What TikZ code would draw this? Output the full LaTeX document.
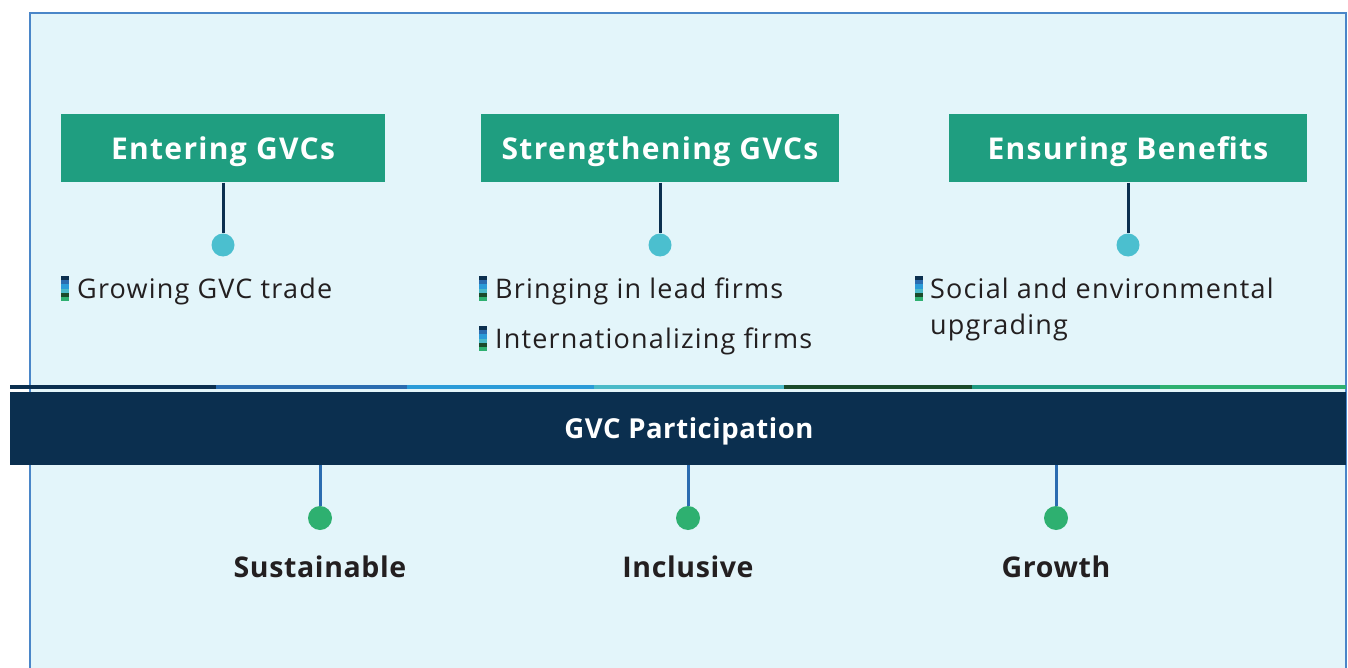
\documentclass[tikz,border=0pt]{standalone}
\usepackage{fontspec}
\setmainfont{Open Sans}
\newfontfamily\itemfont[LetterSpace=4.4]{Open Sans}
\newfontfamily\titlefont[LetterSpace=4.4]{Open Sans}
\newfontfamily\bandfont[LetterSpace=2]{Open Sans}
\newfontfamily\botfont[LetterSpace=2.2]{Open Sans}
\begin{document}
\begin{tikzpicture}[x=1pt,y=-1pt,
  titlebox/.style={fill=boxgreen, text=white, font=\titlefont\fontsize{30}{34}\selectfont\bfseries, minimum height=68pt, inner sep=0pt, text height=21.5pt, text depth=0pt},
  topdot/.style={circle, fill=dotblue, minimum size=23pt, inner sep=0pt},
  botdot/.style={circle, fill=dotgreen, minimum size=24pt, inner sep=0pt},
  itemtext/.style={anchor=base west, inner sep=0pt, text=textdark, font=\itemfont\fontsize{27}{36}\selectfont},
  botlabel/.style={anchor=base, inner sep=0pt, text=textdark, font=\botfont\fontsize{28.5}{34}\selectfont\bfseries},
  bandtext/.style={inner sep=0pt, text=white, font=\bandfont\fontsize{27.5}{30}\selectfont\bfseries, text height=20pt, text depth=0pt},
  topline/.style={draw=navy, line width=3pt},
  botline/.style={draw=segB, line width=3pt},
  pics/bulletmark/.style={code={
    \fill[navy]  (0,0) rectangle (8,4.2);
    \fill[segB]  (0,4.2) rectangle (8,8.4);
    \fill[segC]  (0,8.4) rectangle (8,12.6);
    \fill[segD]  (0,12.6) rectangle (8,16.8);
    \fill[segE]  (0,16.8) rectangle (8,21);
    \fill[segG]  (0,21) rectangle (8,25);
  }}]
\definecolor{bg}{HTML}{E3F5FA}
\definecolor{frame}{HTML}{4A86C8}
\definecolor{boxgreen}{HTML}{1F9E80}
\definecolor{navy}{HTML}{0B2F4F}
\definecolor{segB}{HTML}{2B6CB0}
\definecolor{segC}{HTML}{2B9BD8}
\definecolor{segD}{HTML}{4BBAC8}
\definecolor{segE}{HTML}{1A4A2A}
\definecolor{segF}{HTML}{1E9A80}
\definecolor{segG}{HTML}{2EB070}
\definecolor{dotblue}{HTML}{4BBFCF}
\definecolor{dotgreen}{HTML}{2EB070}
\definecolor{textdark}{HTML}{231F20}
\useasboundingbox (0,0) rectangle (1348,668);
\fill[white] (0,0) rectangle (1348,668);
% outer frame
\draw[frame, fill=bg, line width=1.5pt] (30,13) -- (1346,13) -- (1346,680) -- (30,680) -- cycle;
% colour strip
\fill[navy] (10,384.5) rectangle (216,389);
\fill[segB] (216,384.5) rectangle (407,389);
\fill[segC] (407,384.5) rectangle (594,389);
\fill[segD] (594,384.5) rectangle (784,389);
\fill[segE] (784,384.5) rectangle (972,389);
\fill[segF] (972,384.5) rectangle (1160,389);
\fill[segG] (1160,384.5) rectangle (1346,389);
% top boxes
\node[titlebox, minimum width=324pt] (b1) at (223,148.5) {Entering GVCs};
\node[titlebox, minimum width=358pt] (b2) at (660,148.5) {Strengthening GVCs};
\node[titlebox, minimum width=358pt] (b3) at (1128,148.5) {Ensuring Benefits};
\node[topdot] (d1) at (223,245) {};
\node[topdot] (d2) at (660,245) {};
\node[topdot] (d3) at (1128,245) {};
\draw[topline] (b1.south) -- (d1.north);
\draw[topline] (b2.south) -- (d2.north);
\draw[topline] (b3.south) -- (d3.north);
% items
\pic at (61,276) {bulletmark};
\node[itemtext] (t1) at (77,298) {Growing GVC trade};
\pic at (479,276) {bulletmark};
\node[itemtext] (t2) at (495,298) {Bringing in lead firms};
\pic at (479,326) {bulletmark};
\node[itemtext] (t3) at (495,348) {Internationalizing firms};
\pic at (915,276) {bulletmark};
\node[itemtext] (t4) at (930,298) {\vtop{\hbox{Social and environmental}\hbox{upgrading}}};
% band
\node[fill=navy, minimum width=1336pt, minimum height=73pt, inner sep=0pt] (band) at (678,428.5) {};
\node[bandtext] (bandlabel) at (689,428) {GVC Participation};
% bottom
\node[botdot] (e1) at (320,518) {};
\node[botdot] (e2) at (688,518) {};
\node[botdot] (e3) at (1056,518) {};
\draw[botline] (e1.north |- band.south) -- (e1.north);
\draw[botline] (e2.north |- band.south) -- (e2.north);
\draw[botline] (e3.north |- band.south) -- (e3.north);
\node[botlabel] (l1) at (320,577) {Sustainable};
\node[botlabel] (l2) at (688,577) {Inclusive};
\node[botlabel] (l3) at (1056,577) {Growth};
\end{tikzpicture}
\end{document}
